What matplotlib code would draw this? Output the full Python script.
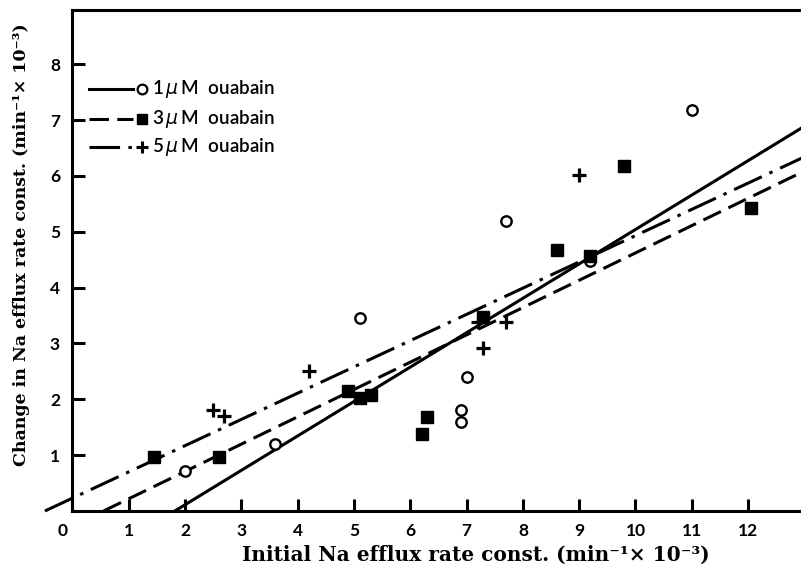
import numpy as np
import matplotlib
matplotlib.use('Agg')
import matplotlib.pyplot as plt
from matplotlib.transforms import ScaledTranslation

############################### DATA ###############################
# 1 uM ouabain (open circles)
x_1uM = [2.0, 3.6, 5.1, 6.9, 6.9, 7.0, 7.7, 9.2, 11.0]
y_1uM = [0.72, 1.2, 3.45, 1.6, 1.8, 2.4, 5.2, 4.48, 7.18]

# 3 uM ouabain (filled squares)
x_3uM = [1.45, 2.6, 4.9, 5.1, 5.3, 6.2, 6.3, 7.3, 8.6, 9.2, 9.8, 12.05]
y_3uM = [0.97, 0.97, 2.15, 2.02, 2.08, 1.37, 1.68, 3.47, 4.68, 4.57, 6.17, 5.42]

# 5 uM ouabain (plus)
x_5uM = [2.5, 2.7, 4.2, 7.2, 7.3, 7.7, 9.0]
y_5uM = [1.8, 1.7, 2.5, 3.38, 2.92, 3.38, 6.02]

# regression lines: slope, intercept
fit_1uM = (0.616, -1.12)
fit_3uM = (0.489, -0.27)
fit_5uM = (0.470, 0.23)

labels = [r'1$\,\mu\,$M  ouabain', r'3$\,\mu\,$M  ouabain', r'5$\,\mu\,$M  ouabain']

############################## PLOT #################################
plt.rcParams['lines.scale_dashes'] = False
plt.rcParams['mathtext.fontset'] = 'dejavusans'

fig = plt.figure(figsize=(8.01, 5.67), dpi=100)
ax = fig.add_axes([0.0905, 0.0988, 0.9095, 0.8836])
ax.set_xlim(0, 12.94)
ax.set_ylim(0, 8.97)

styles = [
    dict(ls='-'),
    dict(dashes=(14, 6)),
    dict(dashes=(22, 6, 2.5, 6)),
]

for (m, b), st in zip([fit_1uM, fit_3uM, fit_5uM], styles):
    x0 = -b / m
    xx = np.array([x0, 13.5])
    ax.plot(xx, m * xx + b, color='black', lw=2.2, clip_on=False, **st)

ax.plot(x_1uM, y_1uM, 'o', mfc='white', mec='black', ms=7.5, mew=1.7, clip_on=False, zorder=5)
ax.plot(x_3uM, y_3uM, 's', mfc='black', mec='black', ms=8.3, clip_on=False, zorder=5)
ax.plot(x_5uM, y_5uM, '+', color='black', ms=9.5, mew=2.3, clip_on=False, zorder=5)

# legend drawn by hand (line, marker, text)
leg_y = [0.842, 0.782, 0.726]
markers = [dict(marker='o', mfc='white', mec='black', ms=7, mew=1.6),
           dict(marker='s', mfc='black', mec='black', ms=7.5),
           dict(marker='+', color='black', ms=9, mew=2.2)]
for yy, st, mk, lab in zip(leg_y, styles, markers, labels):
    ax.plot([0.022, 0.083], [yy, yy], color='black', lw=2.2, transform=ax.transAxes, **st)
    ax.plot([0.096], [yy], transform=ax.transAxes, ls='none', **mk)
    ax.text(0.109, yy, lab, transform=ax.transAxes, va='center', ha='left',
            fontsize=13.5, family='Lato', fontweight='semibold')

ax.spines['right'].set_visible(False)
for s in ['left', 'bottom', 'top']:
    ax.spines[s].set_linewidth(2.2)

ax.set_xticks(range(0, 13))
ax.set_yticks(range(1, 9))
ax.tick_params(direction='in', length=9, width=2.2, labelsize=12.5, pad=9)
for lab in ax.get_xticklabels() + ax.get_yticklabels():
    lab.set_family('Lato')
    lab.set_fontweight('bold')
xl = ax.get_xticklabels()
xl[0].set_transform(xl[0].get_transform() + ScaledTranslation(-0.1, 0, fig.dpi_scale_trans))

fig.text(0.594, 0.022, u'Initial Na efflux rate const. (min\u207b\u00b9\u00d7 10\u207b\u00b3)',
         va='center', ha='center',
         family='DejaVu Serif', fontweight='bold', fontsize=14.5)
fig.text(0.027, 0.568, u'Change in Na efflux rate const. (min\u207b\u00b9\u00d7 10\u207b\u00b3)',
         rotation=90, va='center', ha='center',
         family='DejaVu Serif', fontweight='bold', fontsize=12.5)

fig.savefig('out.png', dpi=100)
